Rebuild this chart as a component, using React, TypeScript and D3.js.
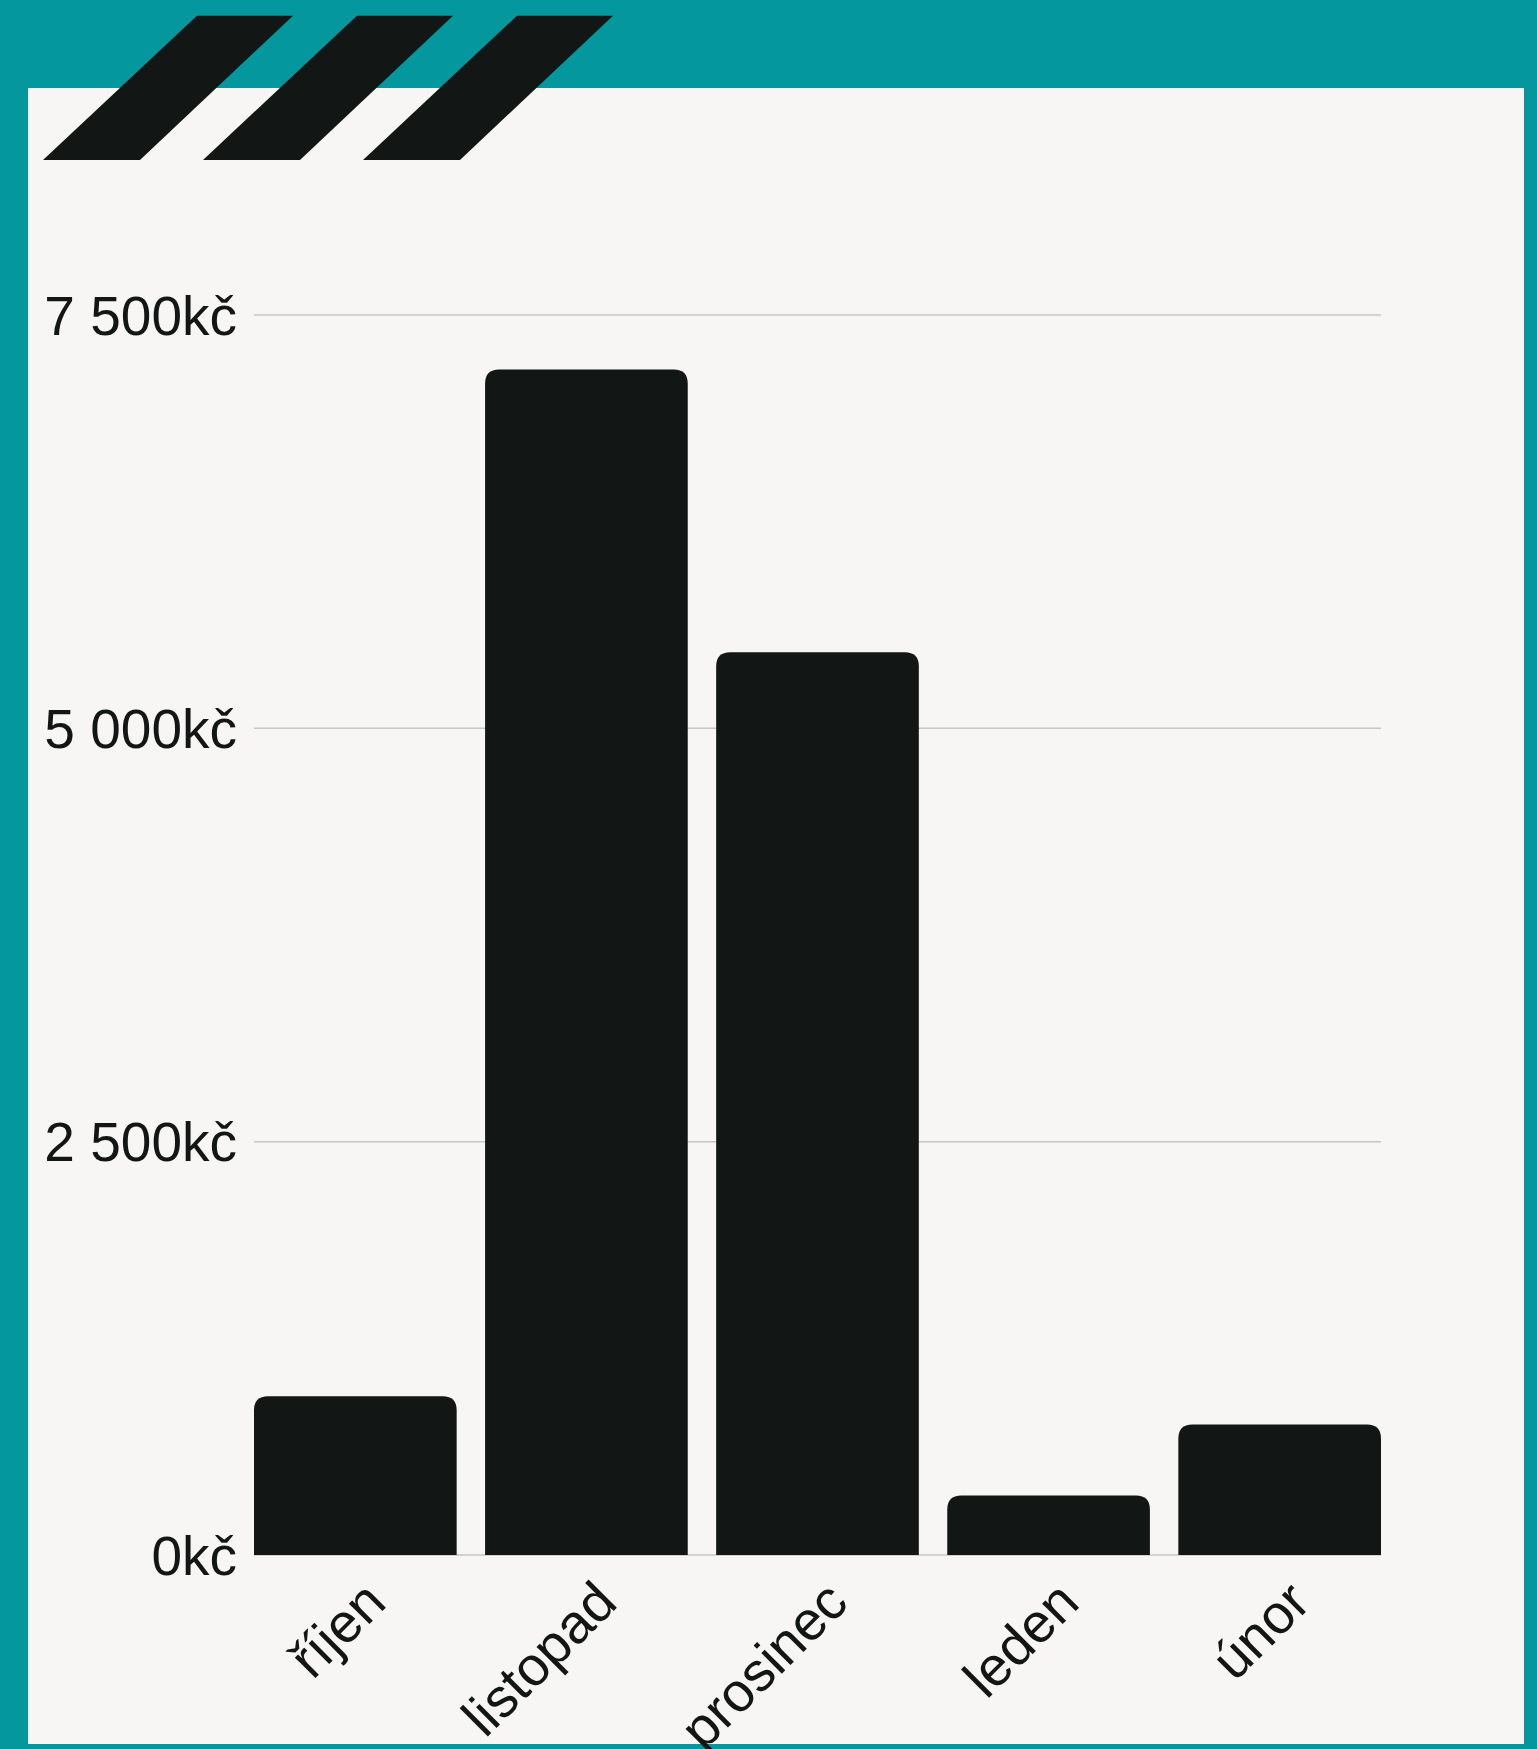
import { useEffect, useRef } from "react";
import * as d3 from "d3";

// Měsíční částky v Kč.
const months = ["říjen", "listopad", "prosinec", "leden", "únor"];
const amounts = [960, 7170, 5460, 360, 790];
const yTicks = [0, 2500, 5000, 7500];

const W = 1537;
const H = 1749;
const PANEL = { left: 28, top: 88, right: 1524, bottom: 1744 };
const PLOT = { left: 254, right: 1381, top: 315, bottom: 1555 };

const TEAL = "#04989e";
const PAPER = "#f7f6f4";
const INK = "#121716";
const GRID = "#c6c6c6";
const FONT = "'Liberation Sans', Arial, sans-serif";

const czk = d3.formatLocale({
  decimal: ",",
  thousands: " ",
  grouping: [3],
  currency: ["", "kč"],
});
const fmt = (v: number) => czk.format(",.0f")(v) + "kč";

// Obdélník se zaoblenými horními rohy.
function topRounded(x: number, y: number, w: number, h: number, r: number) {
  const rr = Math.min(r, w / 2, h);
  return `M${x},${y + h}V${y + rr}Q${x},${y} ${x + rr},${y}H${x + w - rr}Q${x + w},${y} ${x + w},${y + rr}V${y + h}Z`;
}

export default function App() {
  const svgRef = useRef<SVGSVGElement>(null);

  useEffect(() => {
    const svg = d3.select(svgRef.current);
    svg.selectAll("*").remove();

    svg.append("rect").attr("width", W).attr("height", H).attr("fill", TEAL);
    svg
      .append("rect")
      .attr("x", PANEL.left)
      .attr("y", PANEL.top)
      .attr("width", PANEL.right - PANEL.left)
      .attr("height", PANEL.bottom - PANEL.top)
      .attr("fill", PAPER);

    // Dekorační šikmé pruhy vlevo nahoře.
    const stripes = svg.append("g").attr("fill", INK);
    for (let i = 0; i < 3; i++) {
      const dx = i * 160;
      stripes
        .append("path")
        .attr(
          "d",
          `M${197 + dx},15.7L${293 + dx},15.7L${140 + dx},160L${43 + dx},160Z`,
        );
    }

    const x = d3
      .scaleBand<string>()
      .domain(months)
      .range([PLOT.left, PLOT.right])
      .paddingInner(0.123)
      .paddingOuter(0);

    const y = d3
      .scaleLinear()
      .domain([0, 7500])
      .range([PLOT.bottom, PLOT.top]);

    // Mřížka.
    svg
      .append("g")
      .selectAll("line")
      .data(yTicks)
      .join("line")
      .attr("x1", PLOT.left)
      .attr("x2", PLOT.right)
      .attr("y1", (d) => y(d))
      .attr("y2", (d) => y(d))
      .attr("stroke", GRID)
      .attr("stroke-width", 1.5);

    // Popisky osy Y.
    svg
      .append("g")
      .attr("font-family", FONT)
      .attr("font-size", 55)
      .attr("fill", INK)
      .attr("text-anchor", "end")
      .selectAll("text")
      .data(yTicks)
      .join("text")
      .attr("x", PLOT.left - 17)
      .attr("y", (d) => y(d))
      .attr("dy", "0.36em")
      .text((d) => fmt(d));

    // Sloupce.
    svg
      .append("g")
      .attr("fill", INK)
      .selectAll("path")
      .data(amounts)
      .join("path")
      .attr("d", (d, i) =>
        topRounded(
          x(months[i])!,
          y(d),
          x.bandwidth(),
          y(0) - y(d),
          14,
        ),
      );

    // Popisky osy X (otočené o -45°).
    svg
      .append("g")
      .attr("font-family", FONT)
      .attr("font-size", 55)
      .attr("fill", INK)
      .attr("text-anchor", "end")
      .selectAll("text")
      .data(months)
      .join("text")
      .attr(
        "transform",
        (d) =>
          `translate(${x(d)! + x.bandwidth() / 2 + 33},${y(0) + 50}) rotate(-45)`,
      )
      .text((d) => d);
  }, []);

  return (
    <div style={{ position: "absolute", left: 0, top: 0 }}>
      <svg
        ref={svgRef}
        width={W}
        height={H}
        style={{ display: "block" }}
        role="img"
        aria-label="Měsíční částky v Kč"
      />
    </div>
  );
}
